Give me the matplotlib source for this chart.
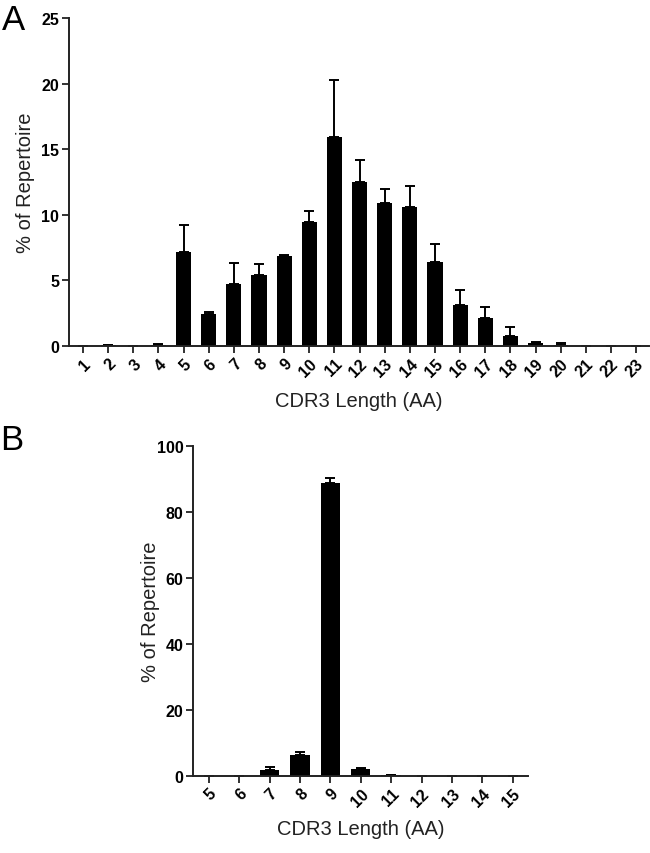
import matplotlib
matplotlib.use("Agg")
import matplotlib.pyplot as plt
import numpy as np

# Panel A: CDR3 length distribution (mean % and upper error)
lengths_a = list(range(1, 24))
mean_a = [0, 0.05, 0.02, 0.1, 7.15, 2.45, 4.72, 5.4, 6.82, 9.42, 15.96, 12.53,
          10.88, 10.6, 6.41, 3.13, 2.1, 0.76, 0.2, 0.1, 0, 0, 0]
err_a = [0, 0.03, 0, 0.08, 2.07, 0.15, 1.59, 0.81, 0.08, 0.86, 4.29, 1.61,
         1.06, 1.6, 1.34, 1.14, 0.9, 0.68, 0.1, 0.1, 0, 0, 0]

# Panel B
lengths_b = list(range(5, 16))
mean_b = [0, 0, 1.6, 6.4, 88.7, 2.0, 0.2, 0, 0, 0, 0]
err_b = [0, 0, 1.1, 0.7, 1.4, 0.3, 0.1, 0, 0, 0, 0]

FONT = ["Liberation Sans", "DejaVu Sans"]
AXIS_COLOR = "#222222"

fig = plt.figure(figsize=(6.5, 8.54), dpi=100)


def draw_panel(ax, xs, means, errs, width, yticks, xlim, xlab_y, ylab_x):
    ax.bar(xs, means, width=width, color="black", zorder=2)
    ax.errorbar(xs, means, yerr=[np.zeros(len(errs)), errs], fmt="none",
                ecolor="black", elinewidth=1.4, capsize=3.5, capthick=1.4, zorder=1)
    ax.set_xlim(*xlim)
    ax.set_ylim(0, yticks[-1])
    ax.set_yticks(yticks)
    ax.set_xticks(xs)
    ax.set_xticklabels([str(v) for v in xs], rotation=45, ha="right",
                       va="top", rotation_mode="anchor")
    for lab in ax.get_xticklabels() + ax.get_yticklabels():
        lab.set_family(FONT)
        lab.set_fontweight("bold")
        lab.set_fontsize(11.5)
    for s in ["top", "right"]:
        ax.spines[s].set_visible(False)
    for s in ["left", "bottom"]:
        ax.spines[s].set_linewidth(1.4)
        ax.spines[s].set_color(AXIS_COLOR)
    ax.tick_params(width=1.3, length=5, pad=2, color=AXIS_COLOR)
    ax.set_xlabel("CDR3 Length (AA)", family=FONT, fontsize=14.5, color="#222222")
    ax.set_ylabel("% of Repertoire", family=FONT, fontsize=14.5, color="#222222")
    ax.xaxis.set_label_coords(0.5, xlab_y)
    ax.yaxis.set_label_coords(ylab_x, 0.5)


ax_a = fig.add_axes([0.106, 0.5937, 0.892, 0.3841])
draw_panel(ax_a, lengths_a, mean_a, err_a, 0.6, [0, 5, 10, 15, 20, 25],
           (0.44, 23.5), -0.136, -0.058)

ax_b = fig.add_axes([0.297, 0.0905, 0.516, 0.3864])
draw_panel(ax_b, lengths_b, mean_b, err_b, 0.64, [0, 20, 40, 60, 80, 100],
           (4.48, 15.52), -0.130, -0.098)

fig.text(0.003, 0.995, "A", fontsize=25, family=FONT, va="top", ha="left")
fig.text(0.0, 0.503, "B", fontsize=25, family=FONT, va="top", ha="left")

fig.savefig("out.png", dpi=100)
